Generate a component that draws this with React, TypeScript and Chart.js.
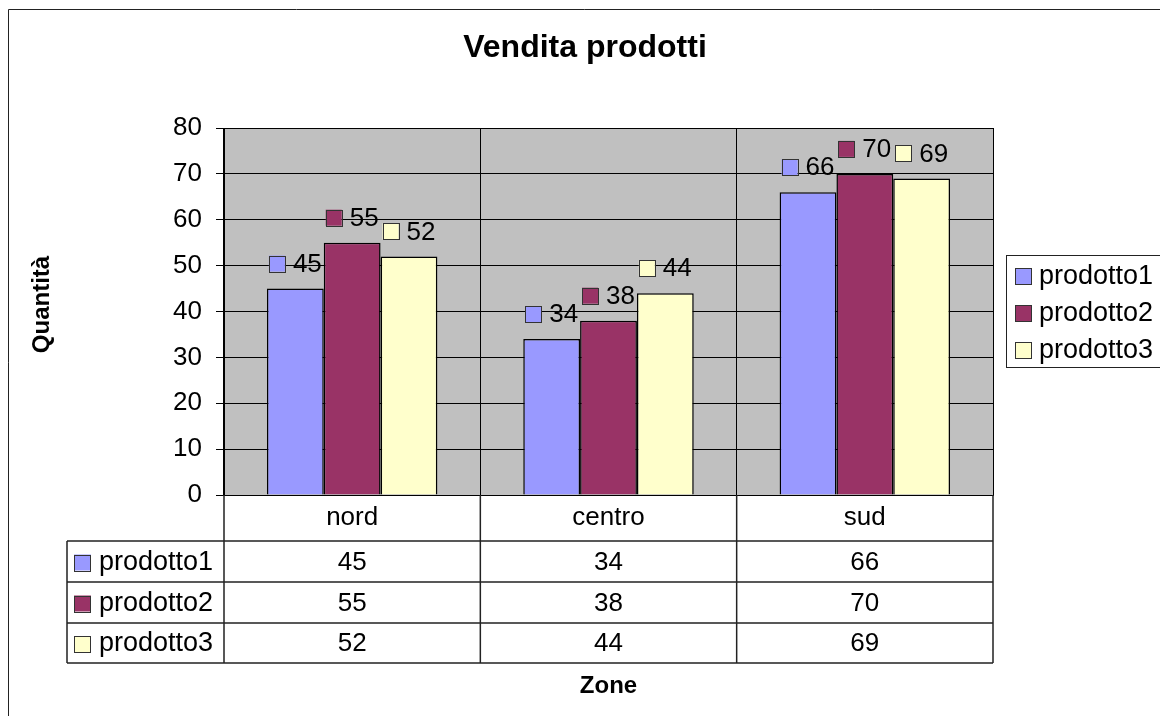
import React, { useEffect, useRef } from "react";
import { Chart, registerables } from "chart.js";

Chart.register(...registerables);

// ---- data ----
const categories = ["nord", "centro", "sud"];
const seriesNames = ["prodotto1", "prodotto2", "prodotto3"];
const prodotto1 = [45, 34, 66];
const prodotto2 = [55, 38, 70];
const prodotto3 = [52, 44, 69];
const seriesValues = [prodotto1, prodotto2, prodotto3];
const seriesColors = ["#9999FF", "#993366", "#FFFFCC"];
const yMin = 0;
const yMax = 80;
const yStep = 10;
const chartTitle = "Vendita prodotti";
const yTitle = "Quantità";
const xTitle = "Zone";

const FONT = '"Liberation Sans", Arial, sans-serif';
const W = 1152;
const H = 708;

const excelPlugin = {
  id: "excelLook",
  beforeDraw(chart: any) {
    const { ctx, chartArea } = chart;
    ctx.save();
    ctx.fillStyle = "#ffffff";
    ctx.fillRect(0, 0, chart.width, chart.height);
    ctx.fillStyle = "#C0C0C0";
    ctx.fillRect(chartArea.left, chartArea.top, chartArea.right - chartArea.left, chartArea.bottom - chartArea.top);
    ctx.restore();
  },
  afterDatasetsDraw(chart: any) {
    const { ctx } = chart;
    ctx.save();
    ctx.font = `26px ${FONT}`;
    ctx.textBaseline = "middle";
    ctx.textAlign = "left";
    chart.data.datasets.forEach((ds: any, di: number) => {
      const meta = chart.getDatasetMeta(di);
      meta.data.forEach((bar: any, i: number) => {
        const txt = String(ds.data[i]);
        const tw = ctx.measureText(txt).width;
        const sq = 16;
        const gap = 8;
        const total = sq + gap + tw;
        const x0 = bar.x - total / 2;
        const cy = bar.y - 25;
        ctx.fillStyle = ds.backgroundColor;
        ctx.fillRect(x0, cy - sq / 2, sq, sq);
        ctx.strokeStyle = "#333";
        ctx.lineWidth = 1;
        ctx.strokeRect(Math.round(x0) + 0.5, Math.round(cy - sq / 2) + 0.5, sq, sq);
        ctx.fillStyle = "#000";
        ctx.fillText(txt, x0 + sq + gap, cy + 1);
      });
    });
    ctx.restore();
  },
  afterDraw(chart: any) {
    const { ctx, chartArea } = chart;
    const { left, right, top, bottom } = chartArea;
    ctx.save();
    // outer frame (left and top visible)
    ctx.strokeStyle = "#222";
    ctx.lineWidth = 1;
    ctx.beginPath();
    ctx.moveTo(0.5, H);
    ctx.lineTo(0.5, 1.5);
    ctx.lineTo(W, 1.5);
    ctx.stroke();

    // title
    ctx.fillStyle = "#000";
    ctx.font = `bold 32px ${FONT}`;
    ctx.textAlign = "center";
    ctx.textBaseline = "middle";
    ctx.fillText(chartTitle, 577, 40);

    // y title
    ctx.font = `bold 24px ${FONT}`;
    ctx.save();
    ctx.translate(34, (top + bottom) / 2 - 7);
    ctx.rotate(-Math.PI / 2);
    ctx.fillText(yTitle, 0, 0);
    ctx.restore();

    // x title
    ctx.fillText(xTitle, (left + right) / 2, bottom + 191);

    // data table
    const rowLines = [46, 87, 128, 168].map((d) => bottom + d);
    const tableLeft = 59;
    const n = categories.length;
    const cw = (right - left) / n;
    ctx.strokeStyle = "#222";
    ctx.lineWidth = 1.5;
    ctx.beginPath();
    for (let i = 0; i <= n; i++) {
      const x = left + i * cw;
      ctx.moveTo(x, bottom);
      ctx.lineTo(x, rowLines[3]);
    }
    ctx.moveTo(tableLeft, rowLines[0]);
    ctx.lineTo(tableLeft, rowLines[3]);
    rowLines.forEach((y) => {
      ctx.moveTo(tableLeft, y);
      ctx.lineTo(right, y);
    });
    ctx.stroke();

    const xs = chart.scales.x;
    seriesNames.forEach((name, si) => {
      const cy = (rowLines[si] + rowLines[si + 1]) / 2 + 1;
      ctx.fillStyle = seriesColors[si];
      ctx.fillRect(66, cy - 8, 17, 16);
      ctx.strokeStyle = "#333";
      ctx.lineWidth = 1;
      ctx.strokeRect(66.5, Math.round(cy - 8) + 0.5, 16, 16);
      ctx.fillStyle = "#000";
      ctx.textAlign = "left";
      ctx.font = `27px ${FONT}`;
      ctx.fillText(name, 91, cy);
      ctx.textAlign = "center";
      ctx.font = `26px ${FONT}`;
      seriesValues[si].forEach((v, ci) => {
        ctx.fillText(String(v), xs.getPixelForValue(ci), cy);
      });
    });

    // legend
    const lx = 998;
    const ly = 247;
    ctx.strokeStyle = "#222";
    ctx.lineWidth = 1;
    ctx.strokeRect(lx + 0.5, ly + 0.5, 300, 112);
    const legendY = [268, 305, 342];
    ctx.font = `27px ${FONT}`;
    seriesNames.forEach((name, si) => {
      const cy = legendY[si];
      ctx.fillStyle = seriesColors[si];
      ctx.fillRect(1007, cy - 8, 17, 17);
      ctx.strokeStyle = "#333";
      ctx.strokeRect(1007.5, cy - 8 + 0.5, 16, 16);
      ctx.fillStyle = "#000";
      ctx.textAlign = "left";
      ctx.fillText(name, 1031, cy + 1);
    });
    ctx.restore();
  },
};

export default function App() {
  const ref = useRef<HTMLCanvasElement | null>(null);
  useEffect(() => {
    if (!ref.current) return;
    const chart = new Chart(ref.current, {
      type: "bar",
      data: {
        labels: categories,
        datasets: seriesNames.map((name, i) => ({
          label: name,
          data: seriesValues[i],
          backgroundColor: seriesColors[i],
          borderColor: "#000",
          borderWidth: 1.5,
          categoryPercentage: 0.665,
          barPercentage: 1.0,
        })),
      },
      options: {
        responsive: false,
        animation: false,
        devicePixelRatio: 1,
        layout: { padding: { top: 120, right: 167, left: 0, bottom: 0 } },
        plugins: {
          legend: { display: false },
          title: { display: false },
          tooltip: { enabled: false },
        },
        scales: {
          x: {
            grid: { color: "#000", lineWidth: 1, drawTicks: false, offset: true },
            border: { color: "#000", width: 1 },
            ticks: { color: "#000", font: { size: 26, family: FONT }, padding: 7, maxRotation: 0 },
            afterFit: (scale: any) => {
              scale.height = 221;
            },
          },
          y: {
            min: yMin,
            max: yMax,
            grid: { color: "#000", lineWidth: 1, tickLength: 8 },
            border: { color: "#000", width: 1 },
            ticks: { stepSize: yStep, color: "#000", font: { size: 26, family: FONT }, padding: 14 },
            afterFit: (scale: any) => {
              scale.width = 216;
            },
          },
        },
      },
      plugins: [excelPlugin],
    });
    return () => chart.destroy();
  }, []);
  return (
    <div style={{ position: "fixed", left: 8, top: 8, width: W, height: H }}>
      <canvas ref={ref} width={W} height={H} style={{ display: "block" }} />
    </div>
  );
}
